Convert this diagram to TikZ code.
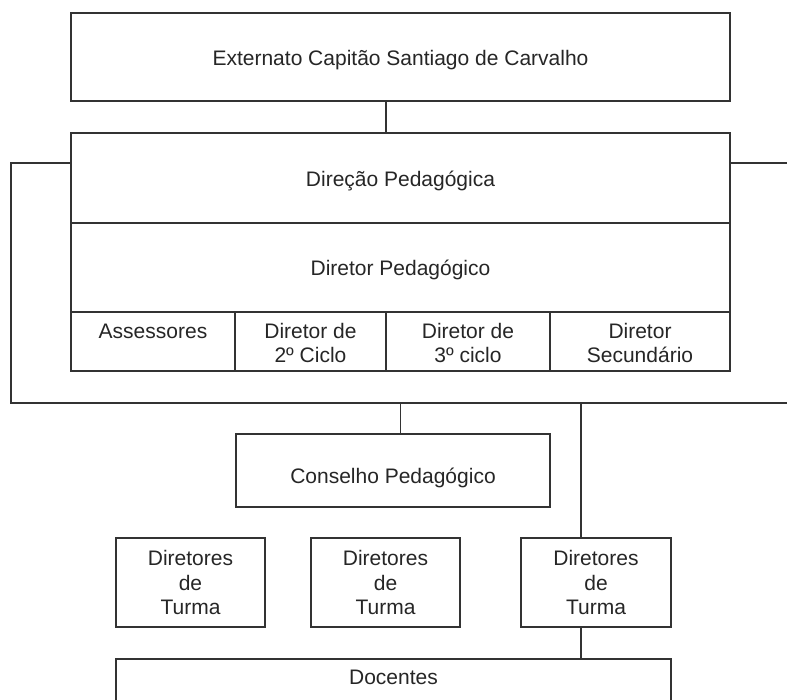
\documentclass[tikz,border=0pt]{standalone}
\usepackage{fontspec}
\setmainfont{Liberation Sans}
\usepackage{tikz}
\usetikzlibrary{positioning}
\newcommand{\celltop}{\rule{0pt}{26pt}}
\newcommand{\cellbot}{\rule[-8.5pt]{0pt}{8.5pt}}
\tikzset{
	orgblock/.style = {
		rectangle,
		draw = black!80,
		line width = 1.3pt,
		outer sep = 0pt,
		inner sep = 0pt,
		text = black!85,
		text height = 16pt,
		text depth = 0pt,
		font = \fontsize{21}{24.5}\selectfont,
	},
	cellblock/.style = {
		orgblock,
		align = center,
		text height =,
		text depth =,
		minimum height = 59pt,
	},
	turmablock/.style = {
		orgblock,
		align = center,
		text height =,
		text depth =,
		minimum width = 149pt,
		minimum height = 89pt,
	},
	link/.style = {
		draw = black!80,
		line width = 1.3pt,
	}
}

\begin{document}
\begin{tikzpicture}[x = 1pt, y = -1pt]
	\clip (0,0) rectangle (787,699);
	\fill[white] (0,0) rectangle (787,699);
	% upper part
	\node[orgblock, minimum width = 659pt, minimum height = 88pt](ext) at (400.5,57){Externato Capitão Santiago de Carvalho};
	\node[orgblock, minimum width = 659pt, minimum height = 90pt](direcao) at (400.5,178){Direção Pedagógica};
	\node[orgblock, minimum width = 659pt, minimum height = 89pt, below = 0pt of direcao](diretor){Diretor Pedagógico};
	\node[cellblock, minimum width = 164pt, below right = 0pt and 0pt of diretor.south west](assess){\celltop Assessores\\\cellbot};
	\node[cellblock, minimum width = 151pt, right = 0pt of assess](dir2){\celltop Diretor de\\2º Ciclo\cellbot};
	\node[cellblock, minimum width = 164pt, right = 0pt of dir2](dir3){\celltop Diretor de\\3º ciclo\cellbot};
	\node[cellblock, minimum width = 180pt, right = 0pt of dir3](dirsec){\celltop Diretor\\Secundário\cellbot};
	% lower part
	\node[orgblock, minimum width = 314pt, minimum height = 73pt, text height = 25pt](conselho) at (393,470.5){Conselho Pedagógico};
	\node[turmablock](turma1) at (190.5,582.5){Diretores\\de\\Turma};
	\node[turmablock](turma2) at (385.5,582.5){Diretores\\de\\Turma};
	\node[turmablock, minimum width = 150pt](turma3) at (596,582.5){Diretores\\de\\Turma};
	\node[orgblock, minimum width = 555pt, minimum height = 44pt, text height = 11pt, text depth = 4.4pt](docentes) at (393.5,681){Docentes};
	
	\coordinate (frameTL) at (11,163);
	\coordinate (frameBL) at (11,403);
	\coordinate (frameBR) at (800,403);
	\coordinate (frameTR) at (800,163);
	\coordinate (tap) at (581,403);
	
	\draw[link](ext.south -| dir3.west)--(direcao.north -| dir3.west);
	\draw[link](direcao.west |- frameTL)--(frameTL)--(frameBL)--(frameBR);
	\draw[link](direcao.east |- frameTR)--(frameTR);
	\draw[link](frameBL -| direcao.south)--(conselho.north -| direcao.south);
	\draw[link](tap)--(tap |- turma3.north);
	\draw[link](turma3.south -| tap)--(docentes.north -| tap);
\end{tikzpicture}
\end{document}
